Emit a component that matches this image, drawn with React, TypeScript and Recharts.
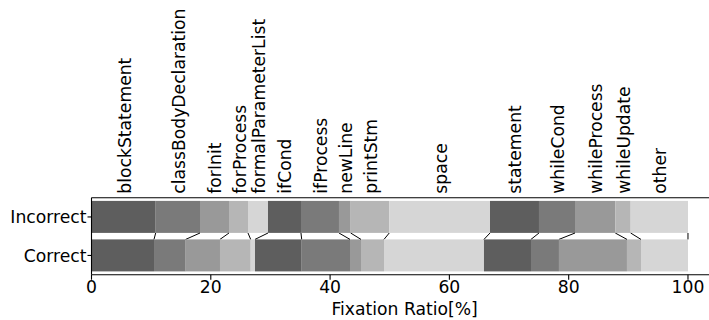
import { BarChart, Bar, XAxis, YAxis } from "recharts"

// rows of the stacked bar (top to bottom)
const groups = ["Incorrect", "Correct"]

// fixation regions, left to right
const regions = [
  "blockStatement",
  "classBodyDeclaration",
  "forInit",
  "forProcess",
  "formalParameterList",
  "ifCond",
  "ifProcess",
  "newLine",
  "printStm",
  "space",
  "statement",
  "whileCond",
  "whileProcess",
  "whileUpdate",
  "other",
]

// fixation ratio [%] per region
const incorrectRatio = [10.76, 7.43, 4.86, 3.19, 3.35, 5.53, 6.37, 1.96, 6.47, 16.89, 8.21, 6.04, 6.75, 2.58, 9.61]
const correctRatio = [10.48, 5.31, 5.75, 5.15, 0.72, 7.83, 8.1, 1.84, 3.86, 16.76, 7.88, 4.69, 11.4, 2.35, 7.88]

const xTicks = [0, 20, 40, 60, 80, 100]

const shades = ["#5e5e5e", "#7a7a7a", "#999999", "#b6b6b6", "#d6d6d6"]

const FONT = "'DejaVu Sans', sans-serif"
const FS = 17.2
const CAT_GAP = 3.2
const GAP = CAT_GAP * 2 // space between the two bars

const cumulative = (arr: number[]) => {
  let s = 0
  return arr.map((v) => (s += v))
}
const cumIncorrect = cumulative(incorrectRatio)
const cumCorrect = cumulative(correctRatio)

// label positions = centre of each Incorrect segment
const labelTicks = incorrectRatio.map((v, i) => cumIncorrect[i] - v / 2)

const chartData = groups.map((g, gi) => {
  const row: Record<string, number | string> = { name: g }
  const vals = gi === 0 ? incorrectRatio : correctRatio
  regions.forEach((r, i) => {
    row[r] = vals[i]
  })
  return row
})

// draws a segment; on the Correct row also the connector to the Incorrect edge
function segmentShape(i: number) {
  return (props: any) => {
    const { x, y, width, height, payload } = props
    const v = payload[regions[i]] as number
    const rect = <rect x={x} y={y} width={width} height={height} fill={shades[i % shades.length]} />
    if (payload.name !== "Correct" || !v) return rect
    const scale = width / v
    const xC = x + width
    const xI = xC + (cumIncorrect[i] - cumCorrect[i]) * scale
    return (
      <g>
        {rect}
        <line x1={xC} y1={y} x2={xI} y2={y - GAP} stroke="#000" strokeWidth={1} />
      </g>
    )
  }
}

function TopTick(props: any) {
  const { x, y, payload } = props
  const idx = labelTicks.findIndex((t) => Math.abs(t - payload.value) < 1e-6)
  return (
    <text
      transform={`translate(${x},${y}) rotate(-90)`}
      dy={7}
      fontSize={FS}
      fontFamily={FONT}
      fill="#000"
      textAnchor="start"
    >
      {regions[idx]}
    </text>
  )
}

export default function App() {
  const axisStyle = { stroke: "#000", strokeWidth: 1.1 }
  return (
    <div
      style={{
        position: "absolute",
        left: 0,
        top: 0,
        width: 709,
        height: 320,
        overflow: "hidden",
        background: "#fff",
      }}
    >
      <BarChart
        width={740}
        height={320}
        data={chartData}
        layout="vertical"
        margin={{ top: 0, right: 22.2, left: 0, bottom: 0 }}
        barCategoryGap={CAT_GAP}
      >
        <XAxis
          xAxisId="bottom"
          type="number"
          domain={[0, 105]}
          ticks={xTicks}
          height={45.3}
          tickSize={5}
          tickMargin={1}
          axisLine={axisStyle}
          tickLine={axisStyle}
          tick={{ fill: "#000", fontSize: FS, fontFamily: FONT }}
          label={{
            value: "Fixation Ratio[%]",
            position: "insideBottom",
            offset: 5,
            fill: "#000",
            fontSize: FS,
            fontFamily: FONT,
          }}
        />
        <XAxis
          xAxisId="top"
          orientation="top"
          type="number"
          domain={[0, 105]}
          allowDataOverflow
          ticks={labelTicks}
          interval={0}
          height={197.7}
          tickSize={0}
          tickMargin={4}
          axisLine={axisStyle}
          tickLine={false}
          tick={(p: any) => <TopTick {...p} />}
        />
        <YAxis
          type="category"
          dataKey="name"
          width={91.5}
          tickSize={4}
          tickMargin={1}
          axisLine={axisStyle}
          tickLine={axisStyle}
          tick={{ fill: "#000", fontSize: FS, fontFamily: FONT }}
        />
        {regions.map((r, i) => (
          <Bar
            key={r}
            xAxisId="bottom"
            dataKey={r}
            stackId="ratio"
            fill={shades[i % shades.length]}
            shape={segmentShape(i)}
            isAnimationActive={false}
          />
        ))}
      </BarChart>
    </div>
  )
}
